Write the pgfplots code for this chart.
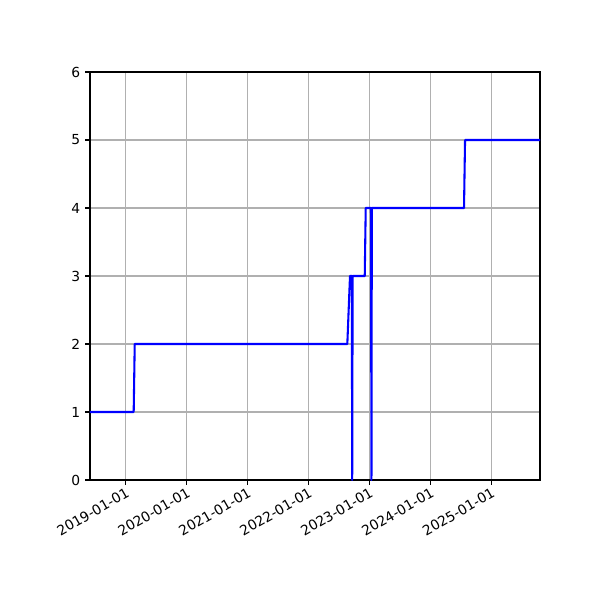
\documentclass[border=0pt]{standalone}
\usepackage{pgfplots}
\pgfplotsset{compat=1.18}
\usepackage{fontspec}
\setmainfont{DejaVu Sans}
\definecolor{gridgray}{HTML}{B0B0B0}
\begin{document}
\begin{tikzpicture}
\useasboundingbox (-0.9in,-1.2in) rectangle (5.1in,4.8in);
\begin{axis}[
  at={(0,0)}, anchor=south west,
  scale only axis, width=4.5in, height=4.08in,
  xmin=2018.414, xmax=2025.799, ymin=0, ymax=6,
  xtick={2019,2020,2021,2022,2023,2024,2025},
  xticklabels={2019-01-01,2020-01-01,2021-01-01,2022-01-01,2023-01-01,2024-01-01,2025-01-01},
  ytick={0,1,2,3,4,5,6},
  x tick label style={rotate=30, anchor=north east, inner sep=1pt},
  tick align=outside, tick pos=left,
  major tick length=3.5pt,
  every tick/.style={black, line width=0.8pt},
  grid=major,
  major grid style={gridgray, line width=0.8pt},
  axis line style={line width=0.8pt},
  /pgf/number format/assume math mode=true,
  tick label style={font=\fontsize{10}{12}\selectfont},
]
\addplot[blue, line width=1.5pt, line join=round, line cap=rect] coordinates {
  (2018.414,1) (2019.131,1) (2019.148,2) (2022.637,2) (2022.681,3)
  (2022.711,3) (2022.717,0) (2022.724,3) (2022.923,3) (2022.939,4)
  (2023.026,4) (2023.033,0) (2023.039,4) (2024.552,4) (2024.569,5)
  (2025.799,5)
};
\end{axis}
\end{tikzpicture}
\end{document}
